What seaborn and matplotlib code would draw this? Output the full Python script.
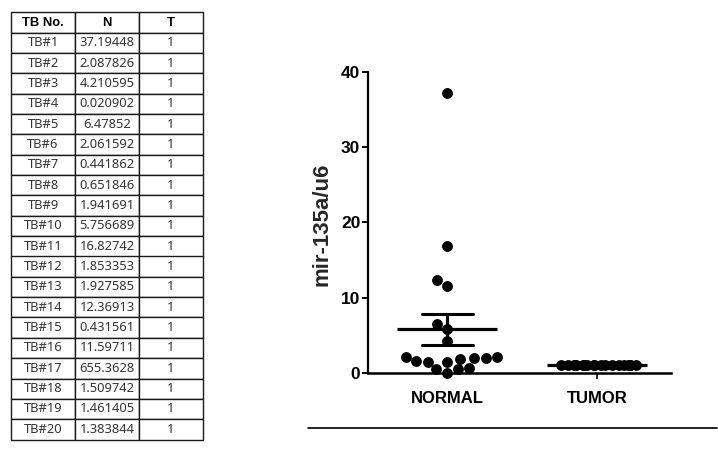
import numpy as np
import pandas as pd
import matplotlib
matplotlib.use("Agg")
import matplotlib.pyplot as plt
from matplotlib.lines import Line2D
from matplotlib.font_manager import fontManager
import seaborn as sns

# ---------------- data ----------------
table_columns = ["TB No.", "N", "T"]
tb_ids = ["TB#1", "TB#2", "TB#3", "TB#4", "TB#5", "TB#6", "TB#7", "TB#8", "TB#9", "TB#10",
          "TB#11", "TB#12", "TB#13", "TB#14", "TB#15", "TB#16", "TB#17", "TB#18", "TB#19", "TB#20"]
n_values = [37.19448, 2.087826, 4.210595, 0.020902, 6.47852, 2.061592, 0.441862, 0.651846,
            1.941691, 5.756689, 16.82742, 1.853353, 1.927585, 12.36913, 0.431561, 11.59711,
            655.3628, 1.509742, 1.461405, 1.383844]
t_values = [1, 1, 1, 1, 1, 1, 1, 1, 1, 1, 1, 1, 1, 1, 1, 1, 1, 1, 1, 1]
excluded_ids = ["TB#17"]          # outlier not drawn in the dot plot
groups = ["NORMAL", "TUMOR"]
y_label = "mir-135a/u6"
y_ticks = [0, 10, 20, 30, 40]

normal_plot = [v for i, v in zip(tb_ids, n_values) if i not in excluded_ids]
df = pd.DataFrame({
    "group": [groups[0]] * len(normal_plot) + [groups[1]] * len(t_values),
    "value": normal_plot + t_values,
})

# ---------------- style ----------------
sns.set_style("white")
names = {f.name for f in fontManager.ttflist}
narrow = "Liberation Sans Narrow" if "Liberation Sans Narrow" in names else "Liberation Sans"
plt.rcParams["font.family"] = ["Liberation Sans", "DejaVu Sans"]

W, H = 718, 451
fig = plt.figure(figsize=(W / 100, H / 100), dpi=100)
fig.patch.set_facecolor("white")

# ---------------- table ----------------
tax = fig.add_axes([11 / W, 1 - 439.5 / H, 192 / W, 427 / H])
tax.axis("off")
cell_text = [[i, f"{n}", f"{t}"] for i, n, t in zip(tb_ids, n_values, t_values)]
tbl = tax.table(cellText=cell_text, colLabels=table_columns, cellLoc="center", bbox=[0, 0, 1, 1])
tbl.auto_set_font_size(False)
for (r, c), cell in tbl.get_celld().items():
    cell.set_edgecolor("#1a1a1a")
    cell.set_linewidth(1.0)
    txt = cell.get_text()
    if r == 0:
        txt.set_family(["Liberation Sans", "DejaVu Sans"])
        txt.set_fontweight("bold")
        txt.set_fontsize(9.4)
        txt.set_color("black")
    else:
        txt.set_family(["Noto Sans", "DejaVu Sans"])
        txt.set_fontsize(9.3)
        txt.set_color("#333333")

# ---------------- dot plot ----------------
ax = fig.add_axes([368 / W, 1 - 384 / H, 303 / W, 319.6 / H])
ax.set_xlim(-0.527, 1.493)
ax.set_ylim(-1.5, 41)

marker_pt = 7.8
sns.swarmplot(data=df[df["group"] == groups[0]], x="group", y="value", order=groups,
              color="black", size=marker_pt, ax=ax)

# pick a jitter seed whose spread leaves no visible gap in the dense TUMOR row
jit = 0.28
n_t = len(t_values)
best_seed, best_gap = 0, np.inf
for seed in range(2000):
    rs = np.random.RandomState(seed)
    u = np.sort(np.concatenate([[-jit], rs.uniform(-jit, jit, n_t), [jit]]))
    g = np.max(np.diff(u))
    if g < best_gap:
        best_gap, best_seed = g, seed
np.random.seed(best_seed)
sns.stripplot(data=df[df["group"] == groups[1]], x="group", y="value", order=groups,
              color="black", size=marker_pt, jitter=jit, ax=ax)

sns.pointplot(data=df, x="group", y="value", order=groups, errorbar="se", capsize=0.34,
              color="black", marker="_", markersize=72, markeredgewidth=2.3,
              linestyle="none", err_kws={"linewidth": 2.2}, ax=ax)

ax.set_xlim(-0.527, 1.493)
ax.set_ylim(-1.5, 41)
ax.set_yticks(y_ticks)
ax.set_yticklabels([str(v) for v in y_ticks])

for s in ["top", "right"]:
    ax.spines[s].set_visible(False)
ax.spines["bottom"].set_position(("data", 0))
ax.spines["left"].set_bounds(0, 40)
ax.spines["left"].set_linewidth(1.6)
ax.spines["bottom"].set_linewidth(1.8)
ax.spines["left"].set_color("black")
ax.spines["bottom"].set_color("black")

ax.tick_params(axis="y", direction="out", length=4, width=1.4, pad=1.5, left=True,
               labelsize=12.5, colors="black")
ax.tick_params(axis="x", direction="out", length=4, width=1.2, pad=9, bottom=True,
               labelsize=12, colors="black")
for lab in ax.get_yticklabels() + ax.get_xticklabels():
    lab.set_family([narrow, "Liberation Sans"])
    lab.set_fontweight("bold")

ax.set_xlabel("")
ax.set_ylabel(y_label, fontsize=16, fontweight="bold", labelpad=6)
ax.grid(False)

# bottom decorative rule
fig.add_artist(Line2D([308 / W, 717 / W], [1 - 428 / H, 1 - 428 / H],
                      transform=fig.transFigure, color="black", lw=1.2))

fig.savefig("out.png", dpi=100, facecolor="white")
